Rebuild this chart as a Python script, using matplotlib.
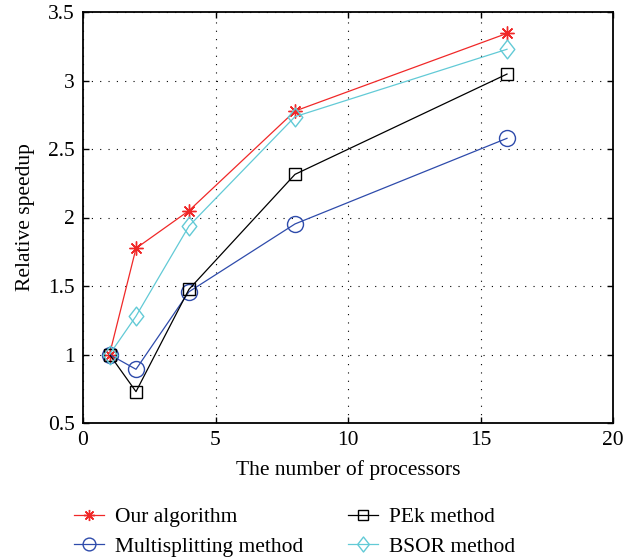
import matplotlib
matplotlib.use("Agg")
import matplotlib.pyplot as plt
from matplotlib.path import Path

processors = [1, 2, 4, 8, 16]
our_algorithm = [1.0, 1.775, 2.05, 2.777, 3.344]
multisplitting = [1.0, 0.892, 1.458, 1.953, 2.578]
pek_method = [1.0, 0.729, 1.476, 2.315, 3.047]
bsor_method = [1.0, 1.28, 1.938, 2.736, 3.228]

x_ticks = [0, 5, 10, 15, 20]
y_ticks = [0.5, 1, 1.5, 2, 2.5, 3, 3.5]
x_tick_labels = ['0', '5', '10', '15', '20']
y_tick_labels = ['0.5', '1', '1.5', '2', '2.5', '3', '3.5']

plt.rcParams['font.family'] = ['Liberation Serif', 'DejaVu Serif']
plt.rcParams['font.size'] = 15.5

W, H = 637, 560
fig = plt.figure(figsize=(W / 100, H / 100), dpi=100)
ax = fig.add_axes([83 / W, 1 - 423 / H, 530 / W, 411 / H])

red = '#f02828'
blue = '#2e4bab'
black = '#000000'
cyan = '#62cad6'

ast = (8, 2, 0)
diamond = Path([(0, 1), (0.78, 0), (0, -1), (-0.78, 0), (0, 1)],
               [Path.MOVETO, Path.LINETO, Path.LINETO, Path.LINETO, Path.CLOSEPOLY])

lw = 0.9
l1, = ax.plot(processors, our_algorithm, color=red, lw=lw, marker=ast, ms=10,
              mew=1, label='Our algorithm')
l2, = ax.plot(processors, multisplitting, color=blue, lw=lw, marker='o', ms=11.5,
              mfc='none', mew=1, label='Multisplitting method')
l3, = ax.plot(processors, pek_method, color=black, lw=lw, marker='s', ms=9,
              mfc='none', mew=1, label='PEk method')
l4, = ax.plot(processors, bsor_method, color=cyan, lw=lw, marker=diamond, ms=13.5,
              mfc='none', mew=1, label='BSOR method')

ax.set_xlim(0, 20)
ax.set_ylim(0.5, 3.5)
ax.set_xticks(x_ticks)
ax.set_yticks(y_ticks)
ax.set_xticklabels(x_tick_labels)
ax.set_yticklabels(y_tick_labels)
ax.grid(True, linestyle=(0, (1, 6.5)), color='black', lw=0.8)
ax.tick_params(direction='in', length=4, width=1, top=True, right=True, pad=6)
for s in ax.spines.values():
    s.set_linewidth(1.3)

ax.set_xlabel('The number of processors', labelpad=7)
ax.set_ylabel('Relative speedup', labelpad=9)

common = dict(frameon=False, loc='upper left', borderpad=0, borderaxespad=0,
              handlelength=1.4, handletextpad=0.5, labelspacing=0.45,
              markerscale=0.8)
leg1 = fig.legend(handles=[l1, l2], bbox_to_anchor=(74 / W, 1 - 507 / H), **common)
leg2 = fig.legend(handles=[l3, l4], bbox_to_anchor=(348 / W, 1 - 507 / H), **common)

fig.savefig('out.png', dpi=100)
